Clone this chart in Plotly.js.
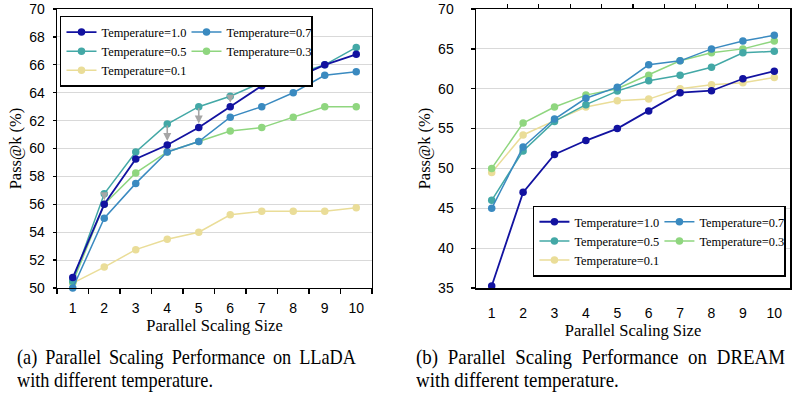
<!DOCTYPE html>
<html>
<head>
<meta charset="utf-8">
<script src="https://cdn.plot.ly/plotly-3.0.1.min.js"></script>
<style>
  html, body { margin: 0; padding: 0; background: #fff; }
  #wrap { position: relative; width: 793px; height: 397px; overflow: hidden; background: #fff; }
  #chartA { position: absolute; left: 0; top: 0; width: 397px; height: 397px; }
  #chartB { position: absolute; left: 397px; top: 0; width: 396px; height: 397px; }
  .cap { position: absolute; font-family: "Liberation Serif", "Times New Roman", serif; font-size: 21px; line-height: 23px; color: #000; white-space: nowrap; transform-origin: 0 0; }
  .just { text-align: justify; text-align-last: justify; white-space: normal; }
</style>
</head>
<body>
<div id="wrap">
  <div id="chartA"></div>
  <div id="chartB"></div>
  <div id="capA1" class="cap just"></div>
  <div id="capA2" class="cap"></div>
  <div id="capB1" class="cap just"></div>
  <div id="capB2" class="cap"></div>
</div>
<script>
// ---------- data ----------
const categories = ['1', '2', '3', '4', '5', '6', '7', '8', '9', '10'];
const seriesNames = ['Temperature=1.0', 'Temperature=0.7', 'Temperature=0.5', 'Temperature=0.3', 'Temperature=0.1'];

// (a) LLaDA
const lladaT10 = [50.75, 56.0, 59.25, 60.25, 61.5, 63.0, 64.5, 65.0, 66.0, 66.75];
const lladaT07 = [50.0, 55.0, 57.5, 59.75, 60.5, 62.25, 63.0, 64.0, 65.25, 65.5];
const lladaT05 = [50.5, 56.75, 59.75, 61.75, 63.0, 63.75, 64.75, 65.25, 66.0, 67.25];
const lladaT03 = [50.4, 56.0, 58.25, 59.75, 60.5, 61.25, 61.5, 62.25, 63.0, 63.0];
const lladaT01 = [50.35, 51.5, 52.75, 53.5, 54.0, 55.25, 55.5, 55.5, 55.5, 55.75];
const lladaArrowAt = ['2', '3', '4', '5', '6', '10'];

// (b) DREAM
const dreamT10 = [35.25, 47.0, 51.75, 53.5, 55.0, 57.2, 59.5, 59.75, 61.25, 62.2];
const dreamT07 = [45.0, 52.7, 56.2, 58.8, 60.2, 63.0, 63.5, 65.0, 66.0, 66.7];
const dreamT05 = [46.0, 52.2, 55.9, 58.0, 59.7, 61.0, 61.7, 62.7, 64.5, 64.7];
const dreamT03 = [50.0, 55.7, 57.7, 59.2, 60.0, 61.7, 63.5, 64.5, 65.0, 66.0];
const dreamT01 = [49.5, 54.2, 56.0, 57.7, 58.5, 58.7, 60.0, 60.5, 60.75, 61.4];

const yTitle = 'Pass@k (%)';
const xTitle = 'Parallel Scaling Size';
const captionA = ['(a) Parallel Scaling Performance on LLaDA', 'with different temperature.'];
const captionB = ['(b) Parallel Scaling Performance on DREAM', 'with different temperature.'];

// ---------- styles ----------
const colors = ['#1212a0', '#3a8ac0', '#43a8a6', '#8fd67f', '#eadd98'];
const serif = 'Liberation Serif, Times New Roman, serif';
const sans = 'Liberation Sans, Arial, sans-serif';

function makeTraces(vals) {
  // draw order: T0.1 first ... T1.0 last ; legend order via legendrank
  const order = [4, 3, 2, 1, 0];
  return order.map(i => ({
    type: 'scatter', mode: 'lines+markers',
    x: categories, y: vals[i], name: seriesNames[i],
    legendrank: i + 1,
    line: { color: colors[i], width: i === 0 ? 1.8 : 1.5 },
    marker: { color: colors[i], size: 7.5 },
    cliponaxis: false
  }));
}

const legendBase = {
  orientation: 'h', entrywidth: 80, entrywidthmode: 'pixels',
  bordercolor: '#000', borderwidth: 1.5, bgcolor: '#fff',
  font: { family: serif, size: 12.4, color: '#000' },
  traceorder: 'normal', itemwidth: 30
};

// ---------- chart (a) ----------
const arrowsA = lladaArrowAt.map(c => {
  const i = categories.indexOf(c);
  return {
    x: i, y: lladaT10[i], ax: i, ay: lladaT05[i], xref: 'x', yref: 'y', axref: 'x', ayref: 'y',
    text: '', showarrow: true, arrowhead: 2, arrowsize: 1, arrowwidth: 1.6,
    arrowcolor: '#a6a6a6', standoff: 4, startstandoff: 0
  };
});

const layoutA = {
  width: 397, height: 397,
  margin: { l: 57, r: 25, t: 9, b: 108.5, pad: 0 },
  paper_bgcolor: '#fff', plot_bgcolor: '#fff',
  showlegend: true,
  legend: Object.assign({}, legendBase, { x: 0.0095, y: 0.975, xanchor: 'left', yanchor: 'top' }),
  xaxis: {
    type: 'category', range: [-0.5, 9.5], tickson: 'boundaries',
    ticks: 'outside', ticklen: 5, tickwidth: 1.3, tickcolor: '#000',
    showline: true, linecolor: '#000', linewidth: 1.3, mirror: true,
    showgrid: false, zeroline: false, ticklabelstandoff: 7, ticklabeloverflow: 'allow',
    tickfont: { family: sans, size: 14, color: '#000' },
    title: { text: xTitle, font: { family: serif, size: 16.5, color: '#000' }, standoff: 0 },
    automargin: false
  },
  yaxis: {
    range: [50, 70.002], dtick: 2, tick0: 50,
    ticks: 'outside', ticklen: 3, tickwidth: 1.3, tickcolor: '#000',
    showline: true, linecolor: '#000', linewidth: 1.3, mirror: true,
    showgrid: true, gridcolor: '#d9d9d9', gridwidth: 1, zeroline: false,
    ticklabelstandoff: 5, ticklabeloverflow: 'allow',
    tickfont: { family: sans, size: 14, color: '#000' },
    title: { text: yTitle, font: { family: serif, size: 16.5, color: '#000' }, standoff: 3 },
    automargin: false
  },
  annotations: arrowsA
};

Plotly.newPlot('chartA', makeTraces([lladaT10, lladaT07, lladaT05, lladaT03, lladaT01]), layoutA,
  { displayModeBar: false, staticPlot: true });

// ---------- chart (b) ----------
const topTicks = categories.slice(1).map((c, i) => i + 0.5);
const layoutB = {
  width: 396, height: 397,
  margin: { l: 79, r: 3, t: 9, b: 108.5, pad: 0 },
  paper_bgcolor: '#fff', plot_bgcolor: '#fff',
  showlegend: true,
  legend: Object.assign({}, legendBase, { x: 0.987, y: 0.295, xanchor: 'right', yanchor: 'top' }),
  xaxis: {
    type: 'category', range: [-0.5, 9.5],
    ticks: '', showline: true, linecolor: '#000', linewidth: 1.5, mirror: true,
    showgrid: false, zeroline: false, ticklabelstandoff: 12, ticklabeloverflow: 'allow',
    tickfont: { family: sans, size: 14, color: '#000' },
    title: { text: xTitle, font: { family: serif, size: 16.5, color: '#000' }, standoff: 0 },
    automargin: false
  },
  xaxis2: {
    overlaying: 'x', anchor: 'y', side: 'top', type: 'linear', range: [-0.5, 9.5],
    tickmode: 'array', tickvals: topTicks, showticklabels: false,
    ticks: 'outside', ticklen: 4, tickwidth: 1.3, tickcolor: '#000',
    showline: false, showgrid: false, zeroline: false
  },
  yaxis: {
    range: [35, 70.003], dtick: 5, tick0: 35,
    ticks: 'outside', ticklen: 4, tickwidth: 1.3, tickcolor: '#000',
    showline: true, linecolor: '#000', linewidth: 1.5, mirror: true,
    showgrid: true, gridcolor: '#d9d9d9', gridwidth: 1, zeroline: false,
    ticklabelstandoff: 14, ticklabeloverflow: 'allow',
    tickfont: { family: sans, size: 14, color: '#000' },
    title: { text: yTitle, font: { family: serif, size: 16.5, color: '#000' }, standoff: 3 },
    automargin: false
  }
};
const tracesB = makeTraces([dreamT10, dreamT07, dreamT05, dreamT03, dreamT01]);
tracesB.push({ type: 'scatter', x: [], y: [], xaxis: 'x2', yaxis: 'y', showlegend: false, hoverinfo: 'skip' });
Plotly.newPlot('chartB', tracesB, layoutB, { displayModeBar: false, staticPlot: true });

// ---------- captions ----------
function placeCap(id, text, left, top, width, sx) {
  const el = document.getElementById(id);
  el.textContent = text;
  el.style.left = left + 'px';
  el.style.top = top + 'px';
  if (width) el.style.width = (width / sx) + 'px';
  el.style.transform = 'scaleX(' + sx + ')';
}
placeCap('capA1', captionA[0], 17, 346, 339, 0.87);
placeCap('capA2', captionA[1], 17, 369, null, 0.87);
placeCap('capB1', captionB[0], 416, 346, 369, 0.90);
placeCap('capB2', captionB[1], 416, 369, null, 0.90);
</script>
</body>
</html>
